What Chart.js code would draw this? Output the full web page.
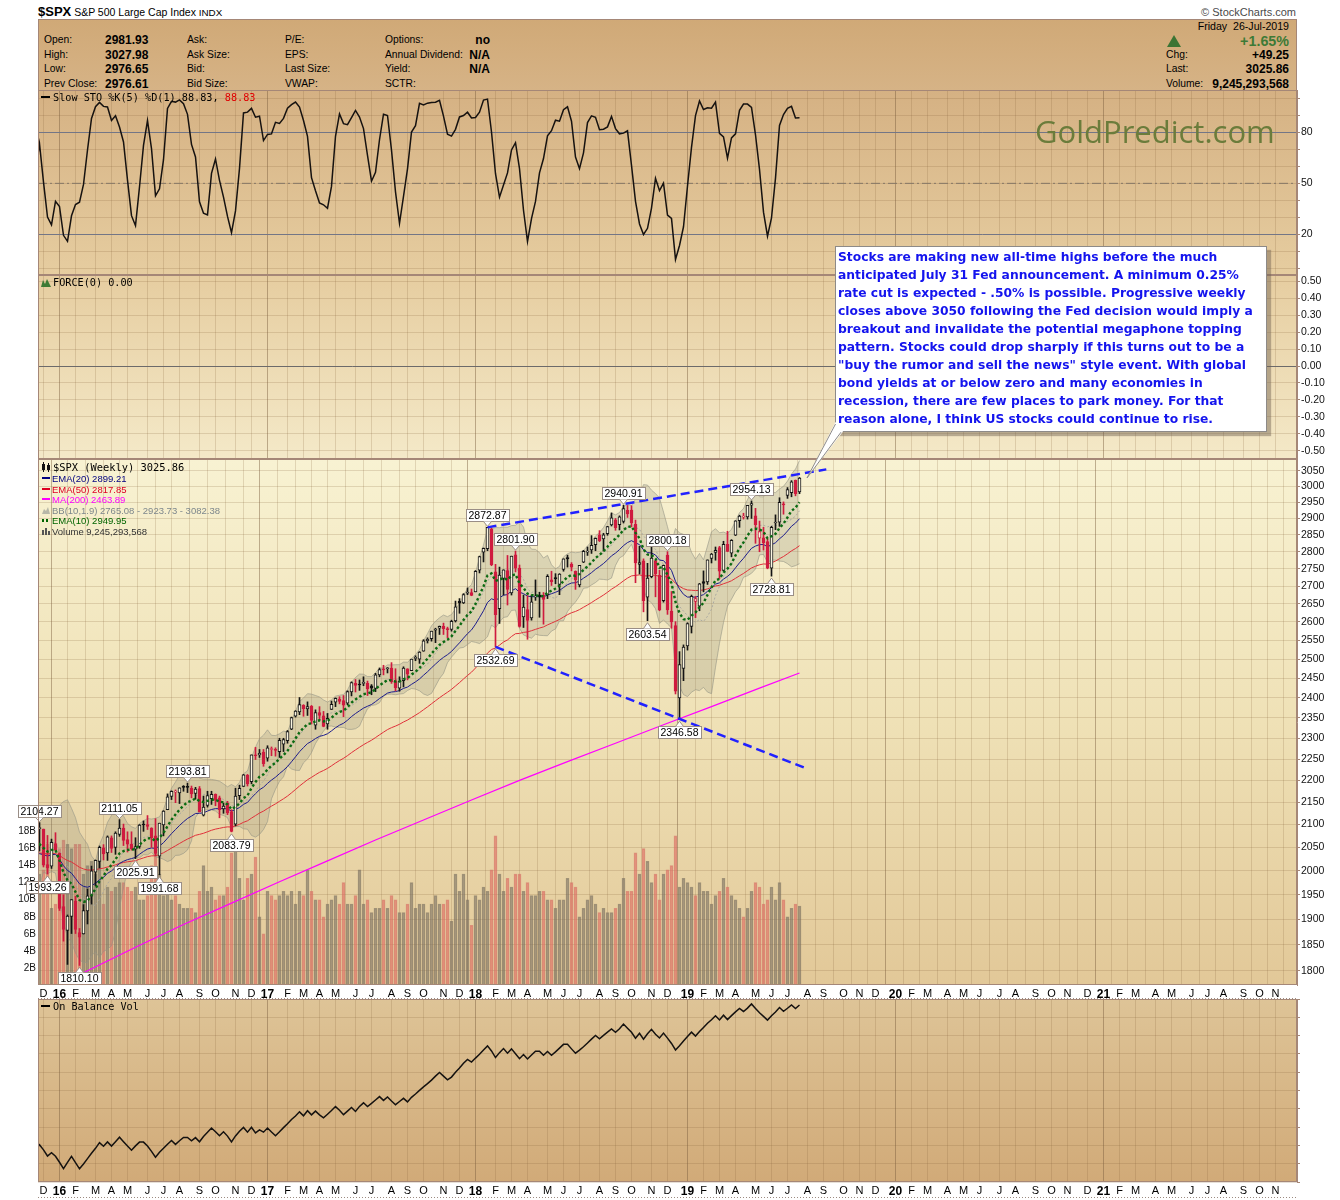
<!DOCTYPE html>
<html>
<head>
<meta charset="utf-8">
<title>$SPX S&amp;P 500 Large Cap Index - Weekly</title>
<script src="https://cdn.jsdelivr.net/npm/chart.js@4.4.1/dist/chart.umd.min.js"></script>
<style>
  html, body { margin:0; padding:0; background:#ffffff; }
  #page { position:relative; width:1340px; height:1200px; overflow:hidden; font-family:"Liberation Sans", Arial, sans-serif; color:#000; }
  #page canvas { position:absolute; left:0; }
  .t { position:absolute; white-space:pre; font-size:10.3px; line-height:14px; }
  .v { position:absolute; white-space:pre; font-size:12px; line-height:14px; font-weight:bold; }
  .lg { position:absolute; white-space:pre; font-family:"DejaVu Sans Mono", monospace; font-size:10.2px; line-height:12px; }
  .ov { position:absolute; white-space:pre; font-family:"Liberation Sans", Arial, sans-serif; font-size:9.5px; line-height:11px; }
  .mk { display:inline-block; width:8px; height:2px; vertical-align:middle; margin-right:2px; position:relative; top:-1px; }
</style>
</head>
<body>
<div id="page">
  <!-- title line -->
  <div class="t" style="left:38px;top:3px;line-height:18px;"><span style="font-weight:bold;font-size:13px;">$SPX</span> <span style="font-size:10.5px;">S&amp;P 500 Large Cap Index</span> <span style="font-size:9.8px;">INDX</span></div>
  <div class="t" style="right:44px;top:5px;font-size:11px;color:#4a4a4a;">© StockCharts.com</div>

  <!-- quote header -->
  <div style="position:absolute;left:38px;top:19px;width:1259px;height:72px;box-sizing:border-box;border:1px solid #a58777;background:linear-gradient(#d0a977,#d6b386);"></div>
  <div class="t" style="left:44px;top:33px;">Open:</div>
  <div class="t" style="left:44px;top:47.5px;">High:</div>
  <div class="t" style="left:44px;top:62px;">Low:</div>
  <div class="t" style="left:44px;top:77px;">Prev Close:</div>
  <div class="v" style="left:105px;top:33px;">2981.93</div>
  <div class="v" style="left:105px;top:47.5px;">3027.98</div>
  <div class="v" style="left:105px;top:62px;">2976.65</div>
  <div class="v" style="left:105px;top:77px;">2976.61</div>
  <div class="t" style="left:187px;top:33px;">Ask:</div>
  <div class="t" style="left:187px;top:47.5px;">Ask Size:</div>
  <div class="t" style="left:187px;top:62px;">Bid:</div>
  <div class="t" style="left:187px;top:77px;">Bid Size:</div>
  <div class="t" style="left:285px;top:33px;">P/E:</div>
  <div class="t" style="left:285px;top:47.5px;">EPS:</div>
  <div class="t" style="left:285px;top:62px;">Last Size:</div>
  <div class="t" style="left:285px;top:77px;">VWAP:</div>
  <div class="t" style="left:385px;top:33px;">Options:</div>
  <div class="t" style="left:385px;top:47.5px;">Annual Dividend:</div>
  <div class="t" style="left:385px;top:62px;">Yield:</div>
  <div class="t" style="left:385px;top:77px;">SCTR:</div>
  <div class="v" style="right:850px;top:33px;">no</div>
  <div class="v" style="right:850px;top:47.5px;">N/A</div>
  <div class="v" style="right:850px;top:62px;">N/A</div>

  <div class="t" style="right:51px;top:19px;font-size:10.6px;">Friday  26-Jul-2019</div>
  <svg style="position:absolute;left:1167px;top:35px;" width="14" height="12"><polygon points="7,0 14,12 0,12" fill="#3b7434"/></svg>
  <div class="v" style="right:51px;top:32px;font-size:14.3px;line-height:18px;color:#3d7a36;">+1.65%</div>
  <div class="t" style="left:1166px;top:47.5px;">Chg:</div>
  <div class="t" style="left:1166px;top:62px;">Last:</div>
  <div class="t" style="left:1166px;top:77px;">Volume:</div>
  <div class="v" style="right:51px;top:47.5px;">+49.25</div>
  <div class="v" style="right:51px;top:62px;">3025.86</div>
  <div class="v" style="right:51px;top:77px;">9,245,293,568</div>

  <canvas id="cSto" width="1340" height="185" style="top:90px;width:1340px;height:185px;"></canvas>
  <canvas id="cForce" width="1340" height="184" style="top:275px;width:1340px;height:184px;"></canvas>
  <canvas id="cPrice" width="1340" height="540" style="top:459px;width:1340px;height:540px;"></canvas>
  <canvas id="cObv" width="1340" height="199" style="top:999px;width:1340px;height:199px;"></canvas>

  <!-- panel legends -->
  <div class="lg" style="left:41px;top:92px;"><span class="mk" style="width:9px;background:#000;margin-right:3px;"></span>Slow STO %K(5) %D(1) 88.83, <span style="color:#e00000">88.83</span></div>
  <div class="lg" style="left:41px;top:277px;"><svg width="10" height="9" style="vertical-align:middle;margin-right:2px;position:relative;top:-1px;"><polygon points="0,9 2,2 4,6 6,1 8,5 10,9" fill="#3d7a35"/></svg>FORCE(0) 0.00</div>
  <div class="lg" style="left:41px;top:461px;font-size:10.4px;"><svg width="10" height="10" style="vertical-align:middle;margin-right:2px;position:relative;top:-1px;"><rect x="1" y="2" width="3" height="6" fill="#111"/><line x1="2.5" y1="0" x2="2.5" y2="10" stroke="#111"/><rect x="6" y="3" width="3" height="5" fill="#111"/><line x1="7.5" y1="1" x2="7.5" y2="10" stroke="#111"/></svg>$SPX (Weekly) 3025.86</div>
  <div class="ov" style="left:42px;top:473px;color:#000080;"><span class="mk" style="background:#000080;"></span>EMA(20) 2899.21</div>
  <div class="ov" style="left:42px;top:483.5px;color:#dd0022;"><span class="mk" style="background:#dd0022;"></span>EMA(50) 2817.85</div>
  <div class="ov" style="left:42px;top:494px;color:#ff00ff;"><span class="mk" style="background:#ff00ff;"></span>MA(200) 2463.89</div>
  <div class="ov" style="left:42px;top:504.5px;color:#7d878c;"><svg width="8" height="8" style="vertical-align:middle;margin-right:2px;position:relative;top:-1px;"><polygon points="0,8 2,3 4,5 6,1 8,8" fill="#b8b8a8"/></svg>BB(10,1.9) 2765.08 - 2923.73 - 3082.38</div>
  <div class="ov" style="left:42px;top:515px;color:#006400;"><span class="mk" style="background:repeating-linear-gradient(90deg,#006400 0 2px,transparent 2px 4px);height:3px;"></span>EMA(10) 2949.95</div>
  <div class="ov" style="left:42px;top:526px;color:#333;"><svg width="8" height="8" style="vertical-align:middle;margin-right:2px;position:relative;top:-1px;"><rect x="0" y="3" width="2" height="5" fill="#555"/><rect x="3" y="1" width="2" height="7" fill="#555"/><rect x="6" y="4" width="2" height="4" fill="#555"/></svg>Volume 9,245,293,568</div>
  <div class="lg" style="left:41px;top:1001px;"><span class="mk" style="width:9px;background:#000;margin-right:3px;"></span>On Balance Vol</div>

  <!-- watermark -->
  <div style="position:absolute;left:1035px;top:112px;font-family:'Open Sans',sans-serif;font-size:31px;line-height:38px;color:#6b7c3b;white-space:pre;">GoldPredict.com</div>

  <!-- commentary callout -->
  <div style="position:absolute;left:835px;top:246px;width:432px;height:186px;box-sizing:border-box;background:#fff;border:1px solid #8d8a88;box-shadow:4px 4px 1px rgba(110,95,80,0.45);"></div>
  <svg style="position:absolute;left:0;top:0;" width="1340" height="1200">
    <polygon points="835.5,422 807,478 843,431.5" fill="#ffffff"/>
    <polyline points="835.5,424 807,478 841,432.2" fill="none" stroke="#8d8a88" stroke-width="1"/>
  </svg>
  <div style="position:absolute;left:838px;top:248px;white-space:pre;font-family:'DejaVu Sans',sans-serif;font-weight:bold;font-size:12.3px;line-height:18px;color:#1414ee;">Stocks are making new all-time highs before the much
anticipated July 31 Fed announcement. A minimum 0.25%
rate cut is expected - .50% is possible. Progressive weekly
closes above 3050 following the Fed decision would imply a
breakout and invalidate the potential megaphone topping
pattern. Stocks could drop sharply if this turns out to be a
"buy the rumor and sell the news" style event. With global
bond yields at or below zero and many economies in
recession, there are few places to park money. For that
reason alone, I think US stocks could continue to rise.</div>
</div>

<script>
// ======================= DATA (weekly $SPX, Friday closes) =======================
// First 11 weeks (Sep 18 - Nov 27, 2015) are lead-in weeks left of the visible window;
// week index 0 = week ending Dec 4, 2015; last = week ending Jul 26, 2019.
const leadWeeks = 11;

const opens = [
  1963,1960,1932,1952,2014,2033,2076,2080,2097,2023,2090,
  2091,2090,2013,2010,2058,2038,1926,1878,1906,1937,
  1874,1871,1917,1947,1997,2020,2049,2038,2071,2050,
  2078,2092,2067,2057,2046,2052,2100,2100,2092,2075,
  2031,2099,2133,2163,2173,2171,2185,2186,2182,2170,
  2181,2121,2143,2158,2168,2160,2135,2148,2129,2101,
  2165,2186,2212,2197,2259,2260,2267,2252,2273,2272,
  2268,2286,2294,2322,2354,2365,2381,2372,2379,2332,
  2363,2355,2335,2371,2389,2397,2393,2387,2415,2437,
  2434,2437,2437,2431,2424,2459,2473,2475,2477,2444,
  2425,2444,2475,2470,2502,2500,2521,2549,2555,2578,
  2583,2588,2580,2580,2603,2657,2653,2680,2682,2684,
  2746,2799,2809,2867,2741,2637,2722,2745,2681,2791,
  2752,2614,2634,2611,2670,2675,2675,2675,2718,2725,
  2705,2748,2783,2763,2743,2704,2769,2799,2805,2821,
  2850,2838,2854,2880,2896,2881,2891,2925,2926,2882,
  2763,2773,2669,2727,2774,2731,2659,2790,2630,2590,
  2400,2476,2535,2588,2657,2644,2713,2712,2780,2798,
  2812,2745,2822,2796,2849,2893,2904,2905,2941,2908,
  2840,2841,2830,2752,2886,2889,2945,2971,2980,3019,2981.93
];
const highs = [
  2021,1989,1952,2020,2034,2080,2094,2116,2100,2097,2095,
  2104.27,2090,2076,2068,2082,2038,1950,1909,1940,1947,
  1882,1930,1962,2010,2023,2053,2056,2075,2075,2084,
  2111.05,2101,2084,2084,2071,2100,2108,2120,2093,2113,
  2103,2131,2169,2176,2178,2183,2188,2193.81,2187,2184,
  2186,2164,2175,2175,2169,2164,2148,2152,2133,2182,
  2189,2214,2214,2260,2278,2273,2273,2282,2279,2277,
  2300,2300,2319,2352,2368,2401,2383,2390,2381,2370,
  2378,2366,2361,2392,2400,2403,2406,2418,2441,2447,
  2446,2454,2443,2434,2463,2477,2484,2478,2491,2475,
  2454,2480,2475,2500,2509,2520,2552,2557,2575,2583,
  2589,2597,2586,2605,2658,2665,2679,2695,2692,2745,
  2787,2811,2872.87,2871,2763,2755,2747,2789,2787,2801.90,
  2761,2675,2673,2675,2718,2683,2682,2733,2743,2736,
  2736,2779,2790,2768,2744,2760,2804,2814,2848,2841,
  2863,2855,2876,2917,2900,2908,2940.91,2940,2939,2895,
  2816,2779,2766,2815,2775,2746,2761,2800.18,2685,2601,
  2520,2538,2598,2675,2671,2708,2744,2776,2795,2814,
  2816,2831,2861,2836,2893,2910,2916,2940,2954.13,2931,
  2892,2873,2841,2876,2911,2964,2951,2996,3018,3020,3027.98
];
const lows = [
  1937,1908,1872,1951,1990,2022,2062,2076,2022,2020,2071,
  2042,2008,1993.26,2005,2043,1918,1857,1812,1872,1872,
  1810.10,1871,1891,1931,1969,2006,2023,2022,2039,2035,
  2074,2054,2040,2044,2025.91,2048,2085,2089,2050,2032,
  1991.68,2075,2133,2156,2149,2147,2175,2172,2160,2157,
  2128,2119,2139,2145,2142,2115,2125,2122,2083.79,2097,
  2156,2186,2187,2192,2249,2254,2233,2245,2258,2257,
  2254,2268,2288,2321,2352,2358,2354,2356,2335,2322,
  2345,2328,2322,2371,2378,2385,2353,2383,2405,2415,
  2419,2431,2406,2408,2416,2454,2459,2464,2437,2418,
  2417,2428,2446,2470,2496,2489,2521,2543,2548,2544,
  2566,2566,2557,2575,2600,2624,2651,2676,2673,2684,
  2738,2770,2803,2759,2532.69,2596,2675,2647,2675,2741,
  2586,2585,2553,2605,2660,2613,2594,2665,2702,2707,
  2676,2743,2755,2744,2691,2698,2768,2789,2795,2803,
  2830,2802,2849,2877,2864,2865,2886,2903,2874,2710,
  2735,2628,2603.54,2724,2670,2631,2655,2621,2583,2410,
  2346.58,2444,2524,2570,2612,2631,2684,2705,2767,2775,
  2722,2745,2800,2785,2848,2873,2898,2898,2900,2825,
  2800,2805,2750,2728.81,2866,2876,2913,2962,2967,2970,2976.65
];
const closes = [
  1958,1931,1951,2015,2033,2075,2079,2099,2023,2089,2090,
  2092,2012,2006,2061,2044,1922,1880,1907,1940,1880,
  1865,1918,1948,2000,2022,2050,2036,2073,2048,2081,
  2092,2065,2057,2047,2052,2099,2099,2096,2071,2037,
  2103,2130,2162,2175,2174,2183,2184,2184,2169,2180,
  2128,2139,2165,2168,2154,2133,2141,2126,2085,2164,
  2182,2213,2192,2260,2258,2264,2239,2277,2275,2271,
  2295,2297,2316,2351,2367,2383,2373,2378,2344,2363,
  2356,2329,2349,2384,2399,2391,2382,2416,2439,2432,
  2433,2438,2423,2425,2459,2473,2472,2477,2441,2426,
  2443,2477,2461,2500,2502,2519,2549,2553,2575,2581,
  2588,2582,2579,2602,2642,2652,2676,2683,2674,2743,
  2786,2810,2873,2762,2620,2732,2747,2691,2787,2752,
  2588,2641,2604,2656,2670,2670,2663,2728,2713,2721,
  2735,2779,2779,2755,2718,2760,2801,2802,2819,2840,
  2833,2850,2875,2902,2872,2905,2930,2914,2886,2767,
  2768,2659,2723,2781,2736,2633,2760,2633,2600,2417,
  2486,2532,2596,2671,2665,2707,2708,2776,2793,2804,
  2743,2822,2801,2834,2893,2907,2905,2940,2946,2881,
  2860,2826,2752,2873,2887,2950,2942,2990,3014,2977,3025.86
];
// weekly volume, billions of shares
const volumes = [
  15.5,13.5,14.5,13.5,12.5,13,13,13,13.5,13,9,
  13,13.5,16.5,9,9.5,16,17,16.5,16,16.5,
  16.5,13,14,14.5,13,15,9.5,11.5,11,11.5,
  12,12,11.5,11,11.5,10,10,10.5,14,15.5,
  13,10.5,11,10,10.5,9.5,9,9,9,8.5,
  11,14,11,11.5,10,10.5,10.5,11.5,15.5,16,
  12.5,10,12.5,13,15,8,6,11,10.5,10,
  10.5,11,10.5,11,9.5,11,10.5,13.5,11,10,
  10,8,9.5,10,10.5,9.5,12,9.5,9.5,10.5,
  13.5,9.5,10,8.5,9,9,10,9,10.5,10,
  8.5,8.5,9.5,12,9,9.5,9.5,8.5,9.5,10.5,
  9.5,9.5,10,7.5,13,11,13,10,7,10.5,
  10,11.5,11,13.5,17.5,13,11,12.5,11.5,13,
  13,11,12,10.5,10.5,11,11,10,10,9,
  10,10,12.5,12,11.5,8,9,10,10.5,9.5,
  8.5,9,8.5,8.5,9,9.5,12.5,11,11,15.5,
  13,16,14.5,12,13,10,13,13.5,14,17.5,
  11.5,12.5,12,11.5,10.5,12,11,11,9.5,10.5,
  11,12.5,11.5,10.5,10,9,8,9,11,12,
  11.5,9.5,10,11.5,10,12,10,8,9,9.5,9.245
];

// 200-week simple moving average
const ma200Weeks  = [0,12,24,36,48,60,72,84,96,108,120,132,144,156,168,180,190];
const ma200Values = [1755,1800,1845,1890,1933,1977,2021,2066,2110,2155,2200,2244,2288,2333,2378,2425,2463.89];

// starting values of the moving averages at the first lead-in week
const emaStart = { ema10: 1980, ema20: 2000, ema50: 2035 };

// annotated swing highs / lows
const swingWeeks  = [0,2,10,20,24,30,37,48,112,114,119,146,152,157,160,178,183];
const swingValues = [2104.27,1993.26,1810.10,2111.05,2025.91,1991.68,2193.81,2083.79,2872.87,2532.69,2801.90,2940.91,2603.54,2800.18,2346.58,2954.13,2728.81];
const swingSides  = ['above','below','below','above','below','below','above','below','above','below','above','above','below','above','below','above','below'];

// hand-drawn megaphone trend lines (week index, price)
const upperTrendWeeks = [112, 196.7];
const upperTrendPrices = [2872.87, 3054];
const lowerTrendWeeks = [114, 191.7];
const lowerTrendPrices = [2532.69, 2228];

// axis tick labels
const priceTicks = [1800,1850,1900,1950,2000,2050,2100,2150,2200,2250,2300,2350,2400,2450,2500,2550,2600,2650,2700,2750,2800,2850,2900,2950,3000,3050];
const volumeTicks = [2,4,6,8,10,12,14,16,18];
const stoTicks = [0,10,20,30,40,50,60,70,80,90,100];
const stoLabelled = [20,50,80];
const forceTicks = [-0.5,-0.4,-0.3,-0.2,-0.1,0,0.1,0.2,0.3,0.4,0.5];
const monthLetters = ['J','F','M','A','M','J','J','A','S','O','N','D'];

// ======================= DERIVED SERIES =======================
const weekIdx = closes.map((_, i) => i - leadWeeks);
function ema(vals, n, start) { const k = 2 / (n + 1); let e = start; return vals.map(v => (e = e + k * (v - e))); }
const ema10 = ema(closes, 10, emaStart.ema10);
const ema20 = ema(closes, 20, emaStart.ema20);
const ema50 = ema(closes, 50, emaStart.ema50);
const bbUp = [], bbMid = [], bbLo = [];
closes.forEach((c, i) => {
  if (i < 9) { bbUp.push(null); bbMid.push(null); bbLo.push(null); return; }
  const w = closes.slice(i - 9, i + 1);
  const m = w.reduce((a, b) => a + b, 0) / 10;
  const sd = Math.sqrt(w.reduce((a, b) => a + (b - m) * (b - m), 0) / 10);
  bbUp.push(m + 1.9 * sd); bbMid.push(m); bbLo.push(m - 1.9 * sd);
});
const fastK = closes.map((c, i) => {
  if (i < 4) return null;
  const hh = Math.max(...highs.slice(i - 4, i + 1)), ll = Math.min(...lows.slice(i - 4, i + 1));
  return 100 * (c - ll) / (hh - ll);
});
const slowK = fastK.map((v, i) => i < 6 ? null : (fastK[i] + fastK[i - 1] + fastK[i - 2]) / 3);
const obv = []; let obvAcc = 0;
closes.forEach((c, i) => {
  if (i > 0) { if (c > closes[i - 1]) obvAcc += volumes[i]; else if (c < closes[i - 1]) obvAcc -= volumes[i]; }
  obv.push(obvAcc);
});
const obvVisible = obv.slice(leadWeeks);
const obvMin = Math.min(...obvVisible), obvMax = Math.max(...obvVisible), obvRange = obvMax - obvMin;

// ======================= STYLE CONSTANTS =======================
const FRAME = '#a58777';
const GRID = 'rgba(130,95,55,0.2)';
const RED = '#cf1b3f';
const BLACK = '#141414';
const X_MIN = -0.375, X_MAX = X_MIN + 1259 / 4;   // plot spans x=38..1297
const FONT = '"Liberation Sans", Arial, sans-serif';
Chart.defaults.font.family = FONT;

// month grid: first Monday-started week of each month, Dec 2015 .. Nov 2021
const firstMonday = Date.UTC(2015, 10, 30);
const monthTicks = [];
for (let y = 2015, m = 11; y < 2021 || (y === 2021 && m <= 10); ) {
  let d = Date.UTC(y, m, 1);
  while (new Date(d).getUTCDay() !== 1) d += 86400000;
  monthTicks.push({ value: Math.round((d - firstMonday) / 604800000), label: m === 0 ? String(y % 100).padStart(2, '0') : monthLetters[m], year: m === 0 });
  m++; if (m > 11) { m = 0; y++; }
}

// fixed axis sizes, no automatic label padding
const fixSize = (w, h) => s => {
  if (w !== null) s.width = w;
  if (h !== null) s.height = h;
  s.paddingLeft = 0; s.paddingRight = 0; s.paddingTop = 0; s.paddingBottom = 0;
};

function xAxis(showLabels, bandHeight) {
  return {
    type: 'linear', min: X_MIN, max: X_MAX, bounds: 'data', offset: false,
    afterBuildTicks: s => { s.ticks = monthTicks.map(t => ({ value: t.value })); },
    afterFit: fixSize(null, bandHeight),
    ticks: {
      display: showLabels, autoSkip: false, maxRotation: 0, minRotation: 0, padding: 2, color: '#000',
      callback: (v, i) => monthTicks[i] ? monthTicks[i].label : '',
      font: ctx => (monthTicks[ctx.index] && monthTicks[ctx.index].year) ? { family: FONT, size: 12, weight: 'bold' } : { family: FONT, size: 11 }
    },
    grid: { drawTicks: false, color: ctx => (monthTicks[ctx.index] && monthTicks[ctx.index].year) ? 'rgba(120,90,60,0.45)' : GRID },
    border: { display: false }
  };
}
function rightAxis(extra) {
  return Object.assign({
    position: 'right', bounds: 'data',
    afterFit: fixSize(43, null),
    ticks: { autoSkip: false, color: '#111', padding: 1, font: { family: FONT, size: 10.5 } },
    grid: { color: GRID, tickLength: 3, tickColor: FRAME },
    border: { display: true, color: FRAME }
  }, extra);
}

const panelPlugin = {
  id: 'panel',
  beforeDraw(chart, args, opts) {
    const { ctx, chartArea: a } = chart;
    const g = ctx.createLinearGradient(0, a.top, 0, a.bottom);
    opts.stops.forEach(s => g.addColorStop(s[0], s[1]));
    ctx.save(); ctx.fillStyle = g; ctx.fillRect(a.left, a.top, a.right - a.left, a.bottom - a.top); ctx.restore();
  },
  afterDraw(chart, args, opts) {
    const { ctx, chartArea: a } = chart;
    ctx.save();
    ctx.strokeStyle = FRAME; ctx.lineWidth = 1;
    ctx.strokeRect(a.left + 0.5, a.top + 0.5, a.right - a.left - 1, a.bottom - a.top - 1);
    if (opts.band) {
      ctx.setLineDash([1, 2]); ctx.strokeStyle = '#9c8a80';
      ctx.beginPath(); ctx.moveTo(a.left, a.bottom + opts.band - 0.5); ctx.lineTo(a.right, a.bottom + opts.band - 0.5); ctx.stroke();
    }
    ctx.restore();
  }
};

const swingPlugin = {
  id: 'swings',
  afterDatasetsDraw(chart) {
    const { ctx, scales: { x, y } } = chart;
    ctx.save();
    ctx.font = '10.5px ' + FONT;
    ctx.textAlign = 'center'; ctx.textBaseline = 'middle';
    swingWeeks.forEach((w, i) => {
      const px = x.getPixelForValue(w);
      const py = y.getPixelForValue(swingValues[i]);
      const txt = swingValues[i].toFixed(2);
      const bw = Math.ceil(ctx.measureText(txt).width) + 5, bh = 12;
      const above = swingSides[i] === 'above';
      const tipY = above ? py - 1 : py + 2;
      const top = Math.round(above ? tipY - 5 - bh : tipY + 5) + 0.5;
      const left = Math.round(px - bw / 2) + 0.5;
      ctx.fillStyle = '#fff'; ctx.strokeStyle = '#9a8e86'; ctx.lineWidth = 1;
      ctx.fillRect(left, top, bw, bh); ctx.strokeRect(left, top, bw, bh);
      const baseY = above ? top + bh : top;
      ctx.beginPath(); ctx.moveTo(px - 4, baseY); ctx.lineTo(px, tipY); ctx.lineTo(px + 4, baseY); ctx.closePath();
      ctx.fill();
      ctx.beginPath(); ctx.moveTo(px - 4, baseY); ctx.lineTo(px, tipY); ctx.lineTo(px + 4, baseY); ctx.stroke();
      ctx.fillStyle = '#000'; ctx.fillText(txt, px, top + bh / 2 + 0.5);
    });
    ctx.restore();
  }
};

const common = (padLeft, stops, band) => ({
  responsive: false, animation: false, events: [],
  layout: { padding: { left: padLeft, right: 0, top: 0, bottom: 0 }, autoPadding: false },
  plugins: { legend: { display: false }, tooltip: { enabled: false }, panel: { stops, band } }
});
const pts = arr => arr.map((v, i) => ({ x: weekIdx[i], y: v }));
const lineDs = (data, color, width, extra) => Object.assign({ type: 'line', data, borderColor: color, borderWidth: width, pointRadius: 0, tension: 0, fill: false }, extra);

// ======================= STO PANEL =======================
new Chart(document.getElementById('cSto'), {
  type: 'line',
  data: { datasets: [
    lineDs([{ x: X_MIN, y: 50 }, { x: X_MAX, y: 50 }], '#857766', 1, { borderDash: [9, 3, 2, 3], order: 2 }),
    lineDs(pts(slowK), '#161210', 1.5, { order: 1 })
  ] },
  options: Object.assign(common(38, [[0, '#d5b183'], [1, '#e6cda0']], 0), {
    scales: {
      x: xAxis(false, 0),
      y: rightAxis({
        type: 'linear', min: -3.9, max: 104.9,
        afterBuildTicks: s => { s.ticks = stoTicks.map(v => ({ value: v })); },
        ticks: { autoSkip: false, color: '#111', padding: 1, font: { family: FONT, size: 10.5 }, callback: v => stoLabelled.includes(v) ? String(v) : '' },
        grid: { color: c => (c.tick && (c.tick.value === 80 || c.tick.value === 20)) ? '#737686' : GRID, tickLength: 3, tickColor: FRAME }
      })
    }
  }),
  plugins: [panelPlugin]
});

// ======================= FORCE PANEL =======================
new Chart(document.getElementById('cForce'), {
  type: 'line',
  data: { datasets: [] },
  options: Object.assign(common(38, [[0, '#e6cda0'], [1, '#f4e9c8']], 0), {
    scales: {
      x: xAxis(false, 0),
      y: rightAxis({
        type: 'linear', min: -0.549, max: 0.5375,
        afterBuildTicks: s => { s.ticks = forceTicks.map(v => ({ value: v })); },
        ticks: { autoSkip: false, color: '#111', padding: 1, font: { family: FONT, size: 10.5 }, callback: v => v.toFixed(2) },
        grid: { color: c => (c.tick && Math.abs(c.tick.value) < 1e-9) ? '#6c6a6a' : GRID, tickLength: 3, tickColor: FRAME }
      })
    }
  }),
  plugins: [panelPlugin]
});

// ======================= PRICE PANEL =======================
const candleIdx = closes.map((_, i) => i);
const tone = i => (i === 0 || closes[i] >= closes[i - 1]) ? BLACK : RED;
new Chart(document.getElementById('cPrice'), {
  type: 'line',
  data: { datasets: [
    { type: 'bar', yAxisID: 'yVol', order: 20, grouped: false, barThickness: 3, borderWidth: 1,
      data: volumes.map((v, i) => ({ x: weekIdx[i], y: v })),
      backgroundColor: candleIdx.map(i => tone(i) === RED ? 'rgba(228,110,100,0.38)' : 'rgba(135,125,110,0.4)'),
      borderColor: candleIdx.map(i => tone(i) === RED ? 'rgba(214,110,100,0.65)' : 'rgba(115,105,90,0.6)') },
    lineDs(pts(bbUp), 'rgba(150,150,135,0.6)', 1, { order: 19, fill: '+1', backgroundColor: 'rgba(140,140,115,0.24)' }),
    lineDs(pts(bbLo), 'rgba(150,150,135,0.6)', 1, { order: 19 }),
    lineDs(pts(bbMid), 'rgba(165,165,160,0.9)', 1, { order: 18, borderDash: [2, 2] }),
    lineDs(ma200Weeks.map((w, i) => ({ x: w, y: ma200Values[i] })), '#ff00ff', 1.2, { order: 10 }),
    lineDs(pts(ema50), '#e0303a', 1, { order: 9 }),
    lineDs(pts(ema20), '#1c1c8c', 1, { order: 8 }),
    { type: 'bar', order: 6, grouped: false, barThickness: 1, borderWidth: 0,
      data: lows.map((l, i) => ({ x: weekIdx[i], y: [l, highs[i]] })),
      backgroundColor: candleIdx.map(tone) },
    { type: 'bar', order: 5, grouped: false, barThickness: 3, borderWidth: 1, borderSkipped: false, minBarLength: 1,
      data: opens.map((o, i) => ({ x: weekIdx[i], y: [o, closes[i]] })),
      backgroundColor: candleIdx.map(i => closes[i] >= opens[i] ? '#fbf6e2' : tone(i)),
      borderColor: candleIdx.map(tone) },
    lineDs(pts(ema10), '#0b6a12', 2.4, { order: 3, borderDash: [2.5, 2.5] }),
    lineDs(upperTrendWeeks.map((w, i) => ({ x: w, y: upperTrendPrices[i] })), '#2121ff', 2.5, { order: 1, borderDash: [9, 5] }),
    lineDs(lowerTrendWeeks.map((w, i) => ({ x: w, y: lowerTrendPrices[i] })), '#2121ff', 2.5, { order: 1, borderDash: [9, 5] })
  ] },
  options: Object.assign(common(0, [[0, '#f8f2d2'], [0.5, '#efe1b6'], [1, '#e2c898']], 14), {
    scales: {
      x: xAxis(true, 14),
      y: rightAxis({
        type: 'logarithmic', min: 1773.1, max: 3087.6,
        afterBuildTicks: s => { s.ticks = priceTicks.map(v => ({ value: v })); },
        ticks: { autoSkip: false, color: '#111', padding: 1, font: { family: FONT, size: 10.5 }, callback: v => String(v) }
      }),
      yVol: {
        type: 'linear', position: 'left', min: 0, max: 61.7, bounds: 'data',
        afterBuildTicks: s => { s.ticks = volumeTicks.map(v => ({ value: v })); },
        afterFit: fixSize(38, null),
        ticks: { autoSkip: false, color: '#111', padding: 2, font: { family: FONT, size: 10 }, callback: v => v + 'B' },
        grid: { drawOnChartArea: false, drawTicks: false },
        border: { display: false }
      }
    }
  }),
  plugins: [panelPlugin, swingPlugin]
});

// ======================= OBV PANEL =======================
new Chart(document.getElementById('cObv'), {
  type: 'line',
  data: { datasets: [ lineDs(pts(obv), '#151210', 1.5, {}) ] },
  options: Object.assign(common(38, [[0, '#dec497'], [1, '#d1aa78']], 16), {
    scales: {
      x: xAxis(true, 16),
      y: rightAxis({
        type: 'linear', min: obvMin - 0.08 * obvRange, max: obvMax + 0.03 * obvRange,
        ticks: { display: false, count: 11 },
        grid: { color: GRID, tickLength: 3, tickColor: FRAME }
      })
    }
  }),
  plugins: [panelPlugin]
});
</script>
</body>
</html>
